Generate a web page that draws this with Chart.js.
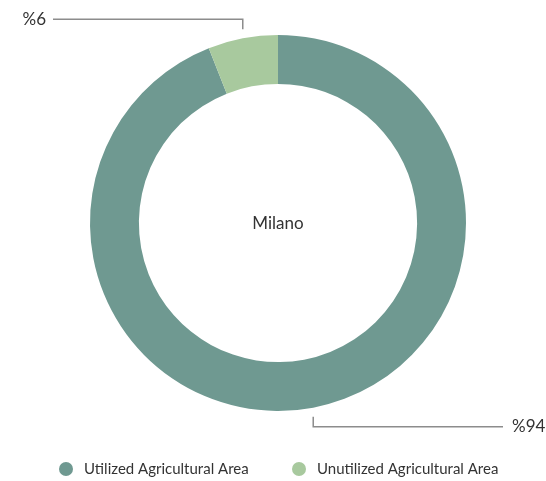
<!DOCTYPE html>
<html>
<head>
<meta charset="utf-8">
<script src="https://cdn.jsdelivr.net/npm/chart.js@4"></script>
<style>
  html, body { margin: 0; padding: 0; background: #fff; overflow: hidden; }
  canvas { display: block; }
</style>
</head>
<body>
<canvas id="areaChart" width="546" height="481"></canvas>
<script>
const categories = ['Utilized Agricultural Area', 'Unutilized Agricultural Area'];
const shares = [94, 6];
const sliceColors = ['#6f9991', '#a8c99e'];
const centerLabel = 'Milano';

const fontFamily = 'Lato, "Open Sans", sans-serif';
const textColor = '#333333';

// Leader lines from each slice's middle out to its "%value" label
const leaderLines = {
    id: 'leaderLines',
    afterDatasetsDraw(chart) {
        const ctx = chart.ctx;
        const arcs = chart.getDatasetMeta(0).data;
        ctx.save();
        ctx.strokeStyle = '#8c8c8c';
        ctx.lineWidth = 1.5;
        ctx.fillStyle = textColor;
        ctx.font = '17px ' + fontFamily;
        ctx.textBaseline = 'middle';
        arcs.forEach((arc, i) => {
            const mid = (arc.startAngle + arc.endAngle) / 2;
            const r = arc.outerRadius;
            const px = arc.x + Math.cos(mid) * r;
            const py = arc.y + Math.sin(mid) * r;
            const up = py < arc.y;
            const y0 = up ? py - 9 : py + 9;
            const y1 = up ? py - 19 : py + 19;
            const left = px < arc.x;
            const endX = left ? 53 : chart.width - 43;
            ctx.beginPath();
            ctx.moveTo(px, y0);
            ctx.lineTo(px, y1);
            ctx.lineTo(endX, y1);
            ctx.stroke();
            ctx.textAlign = left ? 'right' : 'left';
            ctx.fillText('%' + shares[i], left ? endX - 7 : endX + 9, y1);
        });
        ctx.restore();
    }
};

// City name in the hole of the doughnut
const centerText = {
    id: 'centerText',
    afterDatasetsDraw(chart) {
        const arc = chart.getDatasetMeta(0).data[0];
        const ctx = chart.ctx;
        ctx.save();
        ctx.fillStyle = textColor;
        ctx.font = '17px ' + fontFamily;
        ctx.textAlign = 'center';
        ctx.textBaseline = 'middle';
        ctx.fillText(centerLabel, arc.x, arc.y + 1);
        ctx.restore();
    }
};

// Row of round swatches under the chart
const bottomLegend = {
    id: 'bottomLegend',
    afterDraw(chart) {
        const ctx = chart.ctx;
        const y = 469;
        const starts = [66, 299];
        ctx.save();
        ctx.font = '15px ' + fontFamily;
        ctx.textBaseline = 'middle';
        ctx.textAlign = 'left';
        categories.forEach((name, i) => {
            ctx.fillStyle = sliceColors[i];
            ctx.beginPath();
            ctx.arc(starts[i], y, 7, 0, Math.PI * 2);
            ctx.fill();
            ctx.fillStyle = textColor;
            ctx.fillText(name, starts[i] + 18, y);
        });
        ctx.restore();
    }
};

new Chart(document.getElementById('areaChart'), {
    type: 'doughnut',
    data: {
        labels: categories,
        datasets: [{
            data: shares,
            backgroundColor: sliceColors,
            borderWidth: 0,
            hoverOffset: 0
        }]
    },
    options: {
        responsive: false,
        animation: false,
        cutout: '74%',
        layout: { padding: { top: 35, left: 10, right: 0, bottom: 70 } },
        plugins: {
            legend: { display: false },
            tooltip: { enabled: false }
        }
    },
    plugins: [leaderLines, centerText, bottomLegend]
});
</script>
</body>
</html>
